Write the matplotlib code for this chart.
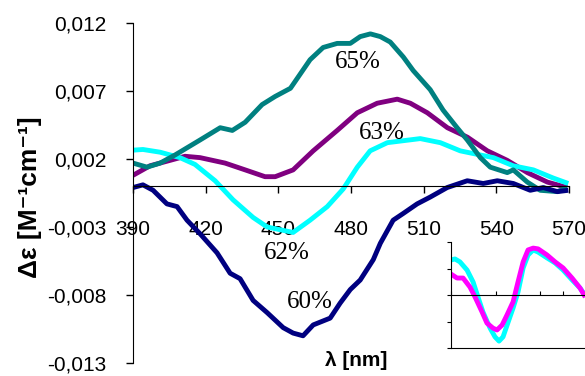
import matplotlib
matplotlib.use('Agg')
import matplotlib.pyplot as plt

# Main CD spectra (wavelength nm, delta epsilon)
teal_nm = [390, 395.8, 401.2, 407.4, 417.7, 426, 431, 436.3, 443.3, 448.7, 455,
           463.1, 468.5, 474.3, 479.7, 483.8, 488, 492.1, 496.2, 501.6, 505.7,
           512.7, 518, 523.8, 528, 533.4, 537.5, 544.5, 547, 552.8, 558.1, 565.2, 569.3]
teal_val = [0.0017, 0.0014, 0.0017, 0.0023, 0.0034, 0.0043, 0.0041, 0.0047, 0.0060, 0.0066, 0.0072,
            0.0093, 0.0102, 0.0105, 0.0105, 0.0110, 0.0112, 0.0110, 0.0106, 0.0095, 0.0085,
            0.0071, 0.0056, 0.0043, 0.0034, 0.0021, 0.0014, 0.0010, 0.0012, 0.0003, -0.0003, -0.0004, -0.0001]

purple_nm = [390, 397, 405.3, 411.5, 417.7, 428, 436.3, 444.5, 448.7, 456.1, 464.4,
             474.3, 482.6, 490.8, 499.1, 504.5, 511.5, 519.8, 528.1, 536.3, 544.5,
             552.8, 561.1, 569.3]
purple_val = [0.0008, 0.0015, 0.0019, 0.0022, 0.0021, 0.0017, 0.0012, 0.0007, 0.0007, 0.0012, 0.0026,
              0.0041, 0.0054, 0.0061, 0.0064, 0.0061, 0.0054, 0.0043, 0.0036, 0.0026, 0.0019,
              0.0010, 0.0003, -0.0001]

cyan_nm = [390, 394.1, 401.2, 409.4, 415.6, 423.9, 431.3, 439.6, 445.4, 450.7, 456.1,
           463.1, 470.2, 476.8, 482.6, 487.9, 495, 508.6, 516.9, 525.1, 530.5,
           538.8, 547, 555.3, 563.5, 569.7]
cyan_val = [0.00265, 0.0027, 0.0025, 0.0021, 0.0016, 0.0004, -0.0010, -0.0023, -0.0030, -0.0032, -0.0034,
            -0.0025, -0.0015, -0.0002, 0.0014, 0.0026, 0.0032, 0.0035, 0.0032, 0.0026, 0.0024,
            0.0021, 0.0015, 0.0012, 0.0006, 0.0002]

navy_nm = [390, 394.1, 398.3, 404, 408.2, 412.3, 417.7, 424.7, 430.1, 434.2, 439.6,
           445.4, 452, 456.1, 460.2, 464.4, 471.4, 475.5, 479.7, 483.8, 489.2,
           492.1, 497.4, 501.6, 507.3, 512.7, 519.7, 528, 534.6, 540.4, 547,
           554, 559.4, 565.2, 569.7]
navy_val = [-0.0001, 0.0001, -0.0003, -0.0013, -0.0015, -0.0025, -0.0035, -0.0049, -0.0064, -0.0068, -0.0084,
            -0.0093, -0.0104, -0.0108, -0.0110, -0.0102, -0.0097, -0.0086, -0.0076, -0.0069, -0.0054,
            -0.0042, -0.0025, -0.0020, -0.0013, -0.0008, -0.0001, 0.0004, 0.0002, 0.0004, 0.0002,
            -0.0003, -0.0001, -0.0004, -0.0003]

# Inset spectra (relative units)
inset_cyan_nm = [390, 395.4, 402, 411.6, 419.7, 426.3, 432.9, 442.5, 449.1, 454.5, 459.9,
                 466.8, 473.4, 480, 486.9, 493.5, 500.4, 507, 519, 529.8, 540.6, 552.6, 563.4, 568.8]
inset_cyan_val = [1.32, 1.36, 1.25, 0.94, 0.49, -0.08, -0.64, -1.25, -1.58, -1.74, -1.58,
                  -1.02, -0.49, 0.11, 1.02, 1.51, 1.70, 1.62, 1.40, 1.21, 0.94, 0.57, 0.26, 0.04]
inset_mag_nm = [390, 398.1, 406.2, 415.5, 422.4, 431.7, 438.3, 446.4, 451.8, 458.7, 465.3,
                473.4, 480, 486.9, 493.5, 500.4, 507, 519, 529.8, 540.6, 552.6, 563.4, 568.8]
inset_mag_val = [0.79, 0.64, 0.64, 0.30, -0.08, -0.64, -1.06, -1.25, -1.32, -1.13, -0.75,
                 -0.26, 0.49, 1.25, 1.70, 1.77, 1.74, 1.51, 1.25, 1.02, 0.64, 0.26, 0.0]

xticks = [390, 420, 450, 480, 510, 540, 570]
yticks = [-0.013, -0.008, -0.003, 0.002, 0.007, 0.012]
ytick_labels = ['-0,013', '-0,008', '-0,003', '0,002', '0,007', '0,012']

labels = ['65%', '63%', '62%', '60%']
label_nm = [483, 492.8, 453.3, 463.2]
label_val = [0.0091, 0.0039, -0.0049, -0.0085]

sans = ['Liberation Sans', 'DejaVu Sans']
plt.rcParams['font.family'] = sans

fig = plt.figure(figsize=(5.85, 3.76), dpi=100)
ax = fig.add_axes([133 / 585, 1 - 363 / 376, 436 / 585, 340 / 376])

lw = 3.5
ax.plot(purple_nm, purple_val, color='#800080', lw=lw, solid_capstyle='butt')
ax.plot(cyan_nm, cyan_val, color='#00FFFF', lw=lw, solid_capstyle='butt')
ax.plot(teal_nm, teal_val, color='#008080', lw=lw, solid_capstyle='butt')
ax.plot(navy_nm, navy_val, color='#000080', lw=lw, solid_capstyle='butt')

ax.set_xlim(390, 570)
ax.set_ylim(-0.013, 0.012)
ax.spines['top'].set_visible(False)
ax.spines['right'].set_visible(False)
ax.spines['bottom'].set_position(('data', 0))
ax.set_xticks(xticks)
ax.set_xticklabels([str(t) for t in xticks])
ax.set_yticks(yticks)
ax.set_yticklabels(ytick_labels)
ax.tick_params(axis='x', direction='out', length=5, width=1, pad=19, labelsize=15)
ax.tick_params(axis='y', direction='out', length=5, width=1, pad=14, labelsize=15)
for lab in ax.get_xticklabels():
    lab.set_zorder(0)

for t, x, y in zip(labels, label_nm, label_val):
    ax.text(x, y, t, family=['Liberation Serif', 'DejaVu Serif'], fontsize=18,
            ha='center', va='center')

fig.text(30 / 585, 1 - 197 / 376, 'Δε [M⁻¹cm⁻¹]', rotation=90, fontsize=19,
         fontweight='bold', ha='center', va='center', family=sans)
fig.text(356 / 585, 1 - 361 / 376, 'λ [nm]', fontsize=15, fontweight='bold',
         ha='center', va='center', family=sans)

# Inset
axi = fig.add_axes([451 / 585, 1 - 348 / 376, 134 / 585, 106 / 376])
axi.plot(inset_cyan_nm, inset_cyan_val, color='#00FFFF', lw=lw)
axi.plot(inset_mag_nm, inset_mag_val, color='#FF00FF', lw=lw)
axi.set_xlim(390, 570)
axi.set_ylim(-2, 2)
axi.spines['right'].set_visible(False)
axi.spines['top'].set_position(('data', 0))
axi.spines['top'].set_linewidth(0.8)
axi.xaxis.set_ticks_position('top')
axi.set_xticks(xticks)
axi.set_xticklabels([])
axi.set_yticks([-2, -1, 0, 1, 2])
axi.set_yticklabels([])
axi.tick_params(axis='x', direction='out', length=3, width=0.8)
axi.tick_params(axis='y', direction='out', length=3, width=0.8)
axi.patch.set_alpha(0)

fig.savefig('out.png', dpi=100)
